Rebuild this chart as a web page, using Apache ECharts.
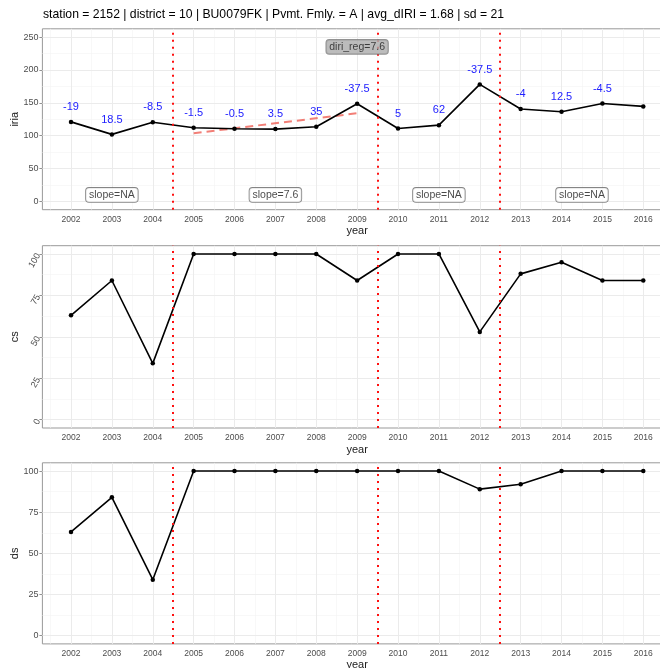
<!DOCTYPE html>
<html>
<head>
<meta charset="utf-8">
<script src="https://cdn.jsdelivr.net/npm/echarts@6/dist/echarts.min.js"></script>
<style>
  html, body { margin: 0; padding: 0; background: #fff; }
  #chart { width: 660px; height: 668px; }
</style>
</head>
<body>
<div id="chart"></div>
<script>
// ---- data ----
const years = [2002, 2003, 2004, 2005, 2006, 2007, 2008, 2009, 2010, 2011, 2012, 2013, 2014, 2015, 2016];
const iria = [121, 102, 120.5, 112, 110.5, 110, 113.5, 148.5, 111, 116, 178, 140.5, 136.5, 149, 144.5];
const iriaChangeLabels = ['-19', '18.5', '-8.5', '-1.5', '-0.5', '3.5', '35', '-37.5', '5', '62', '-37.5', '-4', '12.5', '-4.5'];
const cs = [63, 84, 34, 100, 100, 100, 100, 84, 100, 100, 53, 88, 95, 84, 84];
const ds = [63, 84, 34, 100, 100, 100, 100, 100, 100, 100, 89, 92, 100, 100, 100];
const breakYears = [2004.5, 2009.5, 2012.5];
const segmentCenters = [2003, 2007, 2011, 2014.5];
const segmentLabels = ['slope=NA', 'slope=7.6', 'slope=NA', 'slope=NA'];
const segmentLabelY = 10;
const regressionLine = [[2005, 103.7], [2009, 134.1]];
const regressionLabel = 'diri_reg=7.6';
const regressionLabelPos = [2009, 235];
const iriaTicks = [0, 50, 100, 150, 200, 250];
const iriaMinor = [25, 75, 125, 175, 225];
const pctTicks = [0, 25, 50, 75, 100];
const pctMinor = [12.5, 37.5, 62.5, 87.5];
const titleText = 'station = 2152 | district = 10 | BU0079FK | Pvmt. Fmly. = A | avg_dIRI = 1.68 | sd = 21';

// ---- styling ----
const FONT = "'Liberation Sans', Arial, Helvetica, sans-serif";
const halfYears = [years[0] - 0.5].concat(years.map(y => y + 0.5));
const majorGrid = { color: '#EBEBEB', width: 1, type: 'solid' };
const minorGrid = { color: '#F4F4F4', width: 0.6, type: 'solid' };

const panels = [
  { top: 28.8, height: 180.9, min: -12.5, max: 262.5, ticks: iriaTicks, minor: iriaMinor, name: 'iria', rotate: 0, values: iria },
  { top: 245.7, height: 182.3, min: -5, max: 105, ticks: pctTicks, minor: pctMinor, name: 'cs', rotate: 60, values: cs },
  { top: 462.8, height: 181.1, min: -5, max: 105, ticks: pctTicks, minor: pctMinor, name: 'ds', rotate: 0, values: ds }
];

const grids = [], xAxes = [], yAxes = [], series = [];

panels.forEach((p, i) => {
  grids.push({
    left: 42.4, width: 629.5, top: p.top, height: p.height,
    outerBoundsMode: 'none', containLabel: false,
    show: true, backgroundColor: '#fff', borderColor: '#999', borderWidth: 1
  });
  xAxes.push({
    gridIndex: i, type: 'value', min: 2001.3, max: 2016.7,
    name: 'year', nameLocation: 'middle', nameGap: 16, nameMoveOverlap: false,
    nameTextStyle: { fontFamily: FONT, fontSize: 11, color: '#1A1A1A' },
    axisLine: { show: false },
    axisTick: { show: true, length: 3, customValues: years, lineStyle: { color: '#777', width: 0.8 } },
    axisLabel: { customValues: years, formatter: v => String(v), fontFamily: FONT, fontSize: 8.5, color: '#4D4D4D', margin: 5 },
    splitLine: { show: false }
  });
  yAxes.push({
    gridIndex: i, type: 'value', min: p.min, max: p.max,
    name: p.name, nameLocation: 'middle', nameGap: 22, nameRotate: 90, nameMoveOverlap: false,
    nameTextStyle: { fontFamily: FONT, fontSize: 11, color: '#1A1A1A' },
    axisLine: { show: false },
    axisTick: { show: true, length: 3, customValues: p.ticks, lineStyle: { color: '#777', width: 0.8 } },
    axisLabel: { customValues: p.ticks, formatter: v => String(v), fontFamily: FONT, fontSize: 9, color: '#4D4D4D', margin: 4, rotate: p.rotate },
    splitLine: { show: false }
  });

  // panel gridlines
  const gl = [];
  halfYears.forEach(v => gl.push({ xAxis: v, lineStyle: minorGrid }));
  p.minor.forEach(v => gl.push({ yAxis: v, lineStyle: minorGrid }));
  years.forEach(v => gl.push({ xAxis: v, lineStyle: majorGrid }));
  p.ticks.forEach(v => gl.push({ yAxis: v, lineStyle: majorGrid }));
  series.push({
    type: 'line', xAxisIndex: i, yAxisIndex: i, data: [], silent: true, z: 1,
    markLine: { z: 1, silent: true, symbol: ['none', 'none'], label: { show: false }, animation: false, data: gl }
  });

  // measured series
  series.push({
    type: 'line', xAxisIndex: i, yAxisIndex: i, z: 3,
    data: years.map((y, k) => [y, p.values[k]]),
    symbol: 'circle', symbolSize: 4.5,
    itemStyle: { color: '#000' },
    lineStyle: { color: '#000', width: 1.6 },
    animation: false,
    label: i === 0 ? {
      show: true, position: 'top', distance: 7,
      fontFamily: FONT, fontSize: 11, color: '#2020FF',
      formatter: prm => iriaChangeLabels[prm.dataIndex] !== undefined ? iriaChangeLabels[prm.dataIndex] : ''
    } : { show: false }
  });

  // segment breaks
  series.push({
    type: 'line', xAxisIndex: i, yAxisIndex: i, data: [], silent: true, z: 4,
    markLine: {
      z: 4, silent: true, symbol: ['none', 'none'], label: { show: false }, animation: false,
      lineStyle: { color: '#FF1010', width: 2, type: [2, 5] },
      data: breakYears.map(v => ({ xAxis: v }))
    }
  });
});

// regression fit over the 2005-2009 segment
series.push({
  type: 'line', xAxisIndex: 0, yAxisIndex: 0, z: 2, data: regressionLine,
  symbol: 'none', silent: true, animation: false,
  lineStyle: { color: 'rgba(240,105,95,0.85)', width: 2, type: [8, 5] }
});

// segment slope labels
series.push({
  type: 'scatter', xAxisIndex: 0, yAxisIndex: 0, z: 6, symbolSize: 0, silent: true, animation: false,
  data: segmentCenters.map((x, k) => ({ value: [x, segmentLabelY], label: { formatter: segmentLabels[k] } })),
  label: {
    show: true, position: 'inside', fontFamily: FONT, fontSize: 10.5, color: '#1A1A1A',
    backgroundColor: '#fff', borderColor: '#666', borderWidth: 0.8, borderRadius: 3, padding: [2, 3, 1, 3]
  }
});

// regression label
series.push({
  type: 'scatter', xAxisIndex: 0, yAxisIndex: 0, z: 6, symbolSize: 0, silent: true, animation: false,
  data: [{ value: regressionLabelPos, label: { formatter: regressionLabel } }],
  label: {
    show: true, position: 'inside', fontFamily: FONT, fontSize: 10.5, color: '#1A1A1A',
    backgroundColor: '#ABABAB', borderColor: '#777', borderWidth: 0.8, borderRadius: 3, padding: [2, 3, 1, 3]
  }
});

const chart = echarts.init(document.getElementById('chart'), null, { renderer: 'canvas' });
chart.setOption({
  animation: false,
  backgroundColor: '#fff',
  title: {
    text: titleText, left: 43, top: 9, padding: 0,
    textStyle: { fontFamily: FONT, fontSize: 12.2, fontWeight: 'normal', color: '#000' }
  },
  grid: grids, xAxis: xAxes, yAxis: yAxes, series: series
});
</script>
</body>
</html>
